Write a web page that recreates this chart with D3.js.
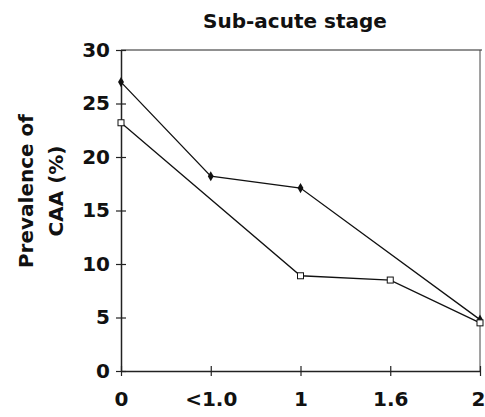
<!DOCTYPE html>
<html>
<head>
<meta charset="utf-8">
<script src="https://cdn.jsdelivr.net/npm/d3@7"></script>
<style>
  body { margin: 0; background: #fff; }
  text { font-family: "DejaVu Sans", sans-serif; font-weight: bold; fill: #111; }
</style>
</head>
<body>
<div id="chart"></div>
<script>
var categories = ["0", "<1.0", "1", "1.6", "2"];
var yTicks = [0, 5, 10, 15, 20, 25, 30];

// filled diamond series (no point at 1.6)
var filledCats = ["0", "<1.0", "1", "2"];
var filledVals = [27, 18.2, 17.1, 4.8];

// open square series (no point at <1.0)
var openCats = ["0", "1", "1.6", "2"];
var openVals = [23.2, 8.9, 8.5, 4.5];

var margin = { top: 50, right: 4, bottom: 46, left: 121 },
    width = 485 - margin.left - margin.right,
    height = 417 - margin.top - margin.bottom;

var svg = d3.select("#chart")
    .append("svg")
    .attr("width", 485)
    .attr("height", 417);

var g = svg.append("g")
    .attr("transform", "translate(" + margin.left + "," + margin.top + ")");

var x = d3.scalePoint()
    .domain(categories)
    .range([0, 359]);

var y = d3.scaleLinear()
    .domain([0, 30])
    .range([321, 0]);

//frame top and right
g.append("line")
    .attr("x1", 0).attr("x2", 361)
    .attr("y1", 0).attr("y2", 0)
    .attr("stroke", "#222").attr("stroke-width", 1);
g.append("line")
    .attr("x1", 359).attr("x2", 359)
    .attr("y1", 0).attr("y2", 321)
    .attr("stroke", "#444").attr("stroke-width", 1);

//y axis
var yAxis = g.append("g")
    .call(d3.axisLeft(y).tickValues(yTicks).tickSize(0).tickPadding(11));
yAxis.select(".domain").attr("stroke", "#222").attr("stroke-width", 1.5);
yAxis.selectAll(".tick text").attr("font-size", 20).attr("font-family", null);
yAxis.selectAll(".tick").append("line")
    .attr("x1", -5).attr("x2", 5)
    .attr("stroke", "#222").attr("stroke-width", 1.2);

//x axis
var xAxis = g.append("g")
    .attr("transform", "translate(0," + 321 + ")")
    .call(d3.axisBottom(x).tickSize(0).tickPadding(21));
xAxis.select(".domain").attr("stroke", "#222").attr("stroke-width", 1.3);
xAxis.selectAll(".tick text").attr("font-size", 20).attr("font-family", null)
    .attr("dx", function(d) { return d === "2" ? -2 : 0; });
xAxis.selectAll(".tick").append("line")
    .attr("y1", -5).attr("y2", 5)
    .attr("stroke", "#222").attr("stroke-width", 1.2);

//y label
var ylab = svg.append("text")
    .attr("transform", "translate(33,191) rotate(-90)")
    .attr("text-anchor", "middle")
    .attr("font-size", 20);
ylab.append("tspan").attr("x", 0).attr("dy", 0).text("Prevalence of");
ylab.append("tspan").attr("x", 0).attr("dy", 30).text("CAA (%)");

//title
svg.append("text")
    .attr("x", 295)
    .attr("y", 28)
    .attr("text-anchor", "middle")
    .attr("font-size", 20)
    .text("Sub-acute stage");

var line = d3.line()
    .x(function(d) { return x(d.c); })
    .y(function(d) { return y(d.v); });

var filled = filledCats.map(function(c, i) { return { c: c, v: filledVals[i] }; });
var open = openCats.map(function(c, i) { return { c: c, v: openVals[i] }; });

g.append("path")
    .datum(filled)
    .attr("d", line)
    .attr("fill", "none")
    .attr("stroke", "#111")
    .attr("stroke-width", 1.3);

g.append("path")
    .datum(open)
    .attr("d", line)
    .attr("fill", "none")
    .attr("stroke", "#111")
    .attr("stroke-width", 1.3);

g.selectAll(".diamond")
    .data(filled)
    .join("path")
    .attr("class", "diamond")
    .attr("d", d3.symbol().type(d3.symbolDiamond).size(30))
    .attr("transform", function(d) { return "translate(" + x(d.c) + "," + y(d.v) + ")"; })
    .attr("fill", "#111");

g.selectAll(".square")
    .data(open)
    .join("rect")
    .attr("class", "square")
    .attr("x", function(d) { return x(d.c) - 3; })
    .attr("y", function(d) { return y(d.v) - 3; })
    .attr("width", 6)
    .attr("height", 6)
    .attr("fill", "#fff")
    .attr("stroke", "#111")
    .attr("stroke-width", 1);
</script>
</body>
</html>
